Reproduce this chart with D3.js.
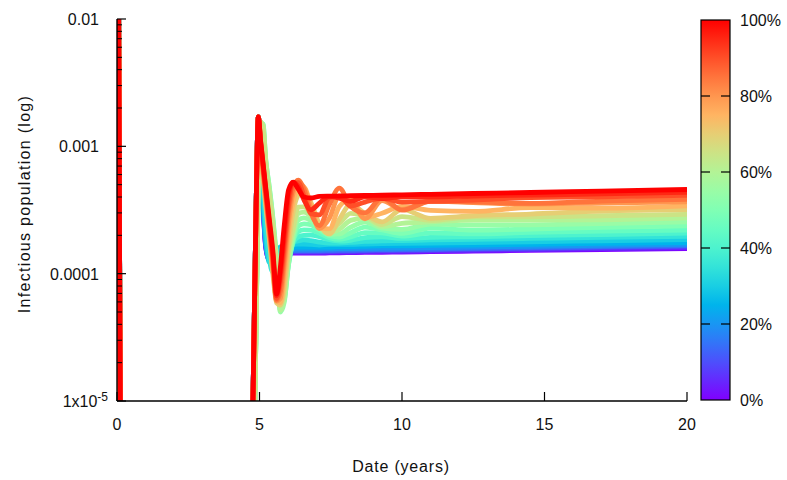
<!DOCTYPE html>
<html>
<head>
<meta charset="utf-8">
<script src="https://cdn.jsdelivr.net/npm/d3@7"></script>
<style>
  html, body { margin: 0; padding: 0; background: #fff; }
  svg { display: block; font-family: "Liberation Sans", Arial, Helvetica, sans-serif; }
</style>
</head>
<body>
<svg id="chart" width="787" height="480"></svg>
<script>
// ---------------- data ----------------
// initial outbreak segment shared by every run
const introYears = [0.05, 0.12, 4.6];
const introValues = [0.03, 3e-6, 1e-8];

// time grid (years) of the second outbreak and the endemic phase
const years = [4.70, 4.80, 4.88, 4.96, 5.04, 5.12, 5.22, 5.34, 5.47, 5.60, 5.73, 5.87, 6.02, 6.18, 6.36, 6.56, 6.80, 7.10, 7.45, 7.80, 8.20, 8.70, 9.30, 10, 11, 12.5, 14.5, 17, 20];

// colour-bar parameter of each run (%)
const shares = [0, 5, 10, 15, 20, 25, 30, 35, 40, 45, 50, 55, 60, 65, 70, 75, 80, 85, 90, 95, 100];

// infectious population per run (same length as years)
const pct0   = [1e-6, 2.5e-5, 3.2e-4, 1.7e-3, 7.53e-4, 3.46e-4, 1.59e-4, 1.28e-4, 1.31e-4, 1.37e-4, 1.41e-4, 1.43e-4, 1.44e-4, 1.45e-4, 1.45e-4, 1.45e-4, 1.45e-4, 1.45e-4, 1.456e-4, 1.459e-4, 1.463e-4, 1.468e-4, 1.473e-4, 1.48e-4, 1.489e-4, 1.503e-4, 1.522e-4, 1.546e-4, 1.575e-4];
const pct5   = [1e-6, 2.5e-5, 3.2e-4, 1.7e-3, 7.67e-4, 3.59e-4, 1.62e-4, 1.29e-4, 1.33e-4, 1.40e-4, 1.44e-4, 1.455e-4, 1.465e-4, 1.47e-4, 1.47e-4, 1.47e-4, 1.47e-4, 1.47e-4, 1.475e-4, 1.48e-4, 1.48e-4, 1.49e-4, 1.495e-4, 1.50e-4, 1.51e-4, 1.525e-4, 1.545e-4, 1.57e-4, 1.60e-4];
const pct10  = [1e-6, 2.5e-5, 3.2e-4, 1.7e-3, 7.81e-4, 3.72e-4, 1.65e-4, 1.30e-4, 1.35e-4, 1.43e-4, 1.465e-4, 1.48e-4, 1.495e-4, 1.50e-4, 1.50e-4, 1.50e-4, 1.50e-4, 1.50e-4, 1.505e-4, 1.51e-4, 1.51e-4, 1.52e-4, 1.525e-4, 1.53e-4, 1.54e-4, 1.56e-4, 1.58e-4, 1.61e-4, 1.64e-4];
const pct15  = [1e-6, 2.5e-5, 3.2e-4, 1.7e-3, 7.95e-4, 3.86e-4, 1.71e-4, 1.33e-4, 1.37e-4, 1.45e-4, 1.49e-4, 1.50e-4, 1.515e-4, 1.52e-4, 1.52e-4, 1.52e-4, 1.52e-4, 1.52e-4, 1.525e-4, 1.53e-4, 1.53e-4, 1.54e-4, 1.545e-4, 1.55e-4, 1.56e-4, 1.58e-4, 1.60e-4, 1.63e-4, 1.66e-4];
const pct20  = [1e-6, 2.5e-5, 3.2e-4, 1.7e-3, 8.10e-4, 4.00e-4, 1.74e-4, 1.35e-4, 1.40e-4, 1.48e-4, 1.53e-4, 1.545e-4, 1.55e-4, 1.56e-4, 1.56e-4, 1.56e-4, 1.56e-4, 1.56e-4, 1.565e-4, 1.57e-4, 1.57e-4, 1.58e-4, 1.585e-4, 1.59e-4, 1.60e-4, 1.62e-4, 1.64e-4, 1.67e-4, 1.70e-4];
const pct25  = [1e-6, 2.5e-5, 3.2e-4, 1.7e-3, 8.24e-4, 4.15e-4, 1.81e-4, 1.37e-4, 1.43e-4, 1.53e-4, 1.59e-4, 1.60e-4, 1.61e-4, 1.62e-4, 1.62e-4, 1.62e-4, 1.62e-4, 1.62e-4, 1.62e-4, 1.63e-4, 1.63e-4, 1.64e-4, 1.65e-4, 1.65e-4, 1.67e-4, 1.68e-4, 1.70e-4, 1.73e-4, 1.75e-4];
const pct30  = [1e-6, 2.5e-5, 3.2e-4, 1.7e-3, 8.86e-4, 4.54e-4, 1.97e-4, 1.23e-4, 1.33e-4, 1.53e-4, 1.62e-4, 1.65e-4, 1.68e-4, 1.70e-4, 1.71e-4, 1.71e-4, 1.70e-4, 1.68e-4, 1.70e-4, 1.70e-4, 1.70e-4, 1.71e-4, 1.72e-4, 1.73e-4, 1.74e-4, 1.75e-4, 1.78e-4, 1.81e-4, 1.85e-4];
const pct35  = [1e-6, 2.5e-5, 3.2e-4, 1.7e-3, 9.36e-4, 5.24e-4, 2.55e-4, 1.33e-4, 1.03e-4, 1.28e-4, 1.53e-4, 1.68e-4, 1.74e-4, 1.77e-4, 1.81e-4, 1.84e-4, 1.82e-4, 1.77e-4, 1.74e-4, 1.74e-4, 1.76e-4, 1.79e-4, 1.81e-4, 1.82e-4, 1.84e-4, 1.86e-4, 1.89e-4, 1.93e-4, 1.96e-4];
const pct40  = [1e-7, 3e-6, 4e-5, 6e-4, 1.55e-3, 1.25e-3, 5.96e-4, 3.59e-4, 2.01e-4, 1.11e-4, 7.17e-5, 8.6e-5, 1.28e-4, 1.74e-4, 1.95e-4, 2.00e-4, 2.01e-4, 1.95e-4, 1.85e-4, 1.80e-4, 1.83e-4, 1.92e-4, 1.95e-4, 1.89e-4, 1.93e-4, 1.95e-4, 1.99e-4, 2.03e-4, 2.08e-4];
const pct45  = [1e-7, 3e-6, 4e-5, 6e-4, 1.55e-3, 1.35e-3, 6.76e-4, 4.15e-4, 2.37e-4, 1.23e-4, 6.21e-5, 7.17e-5, 1.19e-4, 1.81e-4, 2.14e-4, 2.21e-4, 2.20e-4, 2.08e-4, 1.92e-4, 1.86e-4, 1.94e-4, 2.10e-4, 2.09e-4, 1.97e-4, 2.09e-4, 2.05e-4, 2.11e-4, 2.16e-4, 2.20e-4];
const pct50  = [1e-7, 3e-6, 4e-5, 6e-4, 1.45e-3, 1.50e-3, 7.81e-4, 4.88e-4, 2.74e-4, 1.33e-4, 5.37e-5, 6.21e-5, 1.19e-4, 1.84e-4, 2.37e-4, 2.46e-4, 2.42e-4, 2.21e-4, 1.99e-4, 1.94e-4, 2.10e-4, 2.32e-4, 2.21e-4, 2.07e-4, 2.28e-4, 2.20e-4, 2.24e-4, 2.31e-4, 2.37e-4];
const pct55  = [1e-7, 3e-6, 4e-5, 6e-4, 1.45e-3, 1.50e-3, 7.81e-4, 4.79e-4, 2.64e-4, 1.23e-4, 5.0e-5, 5.99e-5, 1.23e-4, 1.97e-4, 2.64e-4, 2.74e-4, 2.62e-4, 2.31e-4, 2.04e-4, 2.05e-4, 2.32e-4, 2.54e-4, 2.28e-4, 2.23e-4, 2.45e-4, 2.41e-4, 2.42e-4, 2.47e-4, 2.55e-4];
const pct60  = [1e-7, 3e-6, 4e-5, 6e-4, 1.55e-3, 1.45e-3, 7.53e-4, 4.54e-4, 2.55e-4, 1.21e-4, 5.18e-5, 6.44e-5, 1.37e-4, 2.12e-4, 2.97e-4, 3.04e-4, 2.82e-4, 2.38e-4, 2.11e-4, 2.23e-4, 2.62e-4, 2.73e-4, 2.35e-4, 2.48e-4, 2.55e-4, 2.64e-4, 2.64e-4, 2.65e-4, 2.74e-4];
const pct65  = [1e-7, 3e-6, 4e-5, 6e-4, 1.55e-3, 1.40e-3, 7.13e-4, 4.22e-4, 2.37e-4, 1.15e-4, 5.67e-5, 7.17e-5, 1.53e-4, 2.28e-4, 3.33e-4, 3.35e-4, 2.98e-4, 2.42e-4, 2.20e-4, 2.48e-4, 2.98e-4, 2.85e-4, 2.43e-4, 2.81e-4, 2.62e-4, 2.80e-4, 2.80e-4, 2.85e-4, 2.92e-4];
const pct70  = [1e-6, 2.5e-5, 3.2e-4, 1.7e-3, 9.36e-4, 5.85e-4, 3.40e-4, 1.91e-4, 9.9e-5, 5.9e-5, 5.67e-5, 8.0e-5, 1.68e-4, 3.05e-4, 4.14e-4, 4.39e-4, 3.64e-4, 2.45e-4, 2.05e-4, 2.67e-4, 3.50e-4, 2.96e-4, 2.55e-4, 3.20e-4, 2.72e-4, 2.85e-4, 2.94e-4, 3.10e-4, 3.18e-4];
const pct75  = [1e-6, 2.5e-5, 3.2e-4, 1.7e-3, 9.7e-4, 6.17e-4, 3.65e-4, 2.05e-4, 1.07e-4, 6.2e-5, 5.9e-5, 9.6e-5, 2.12e-4, 3.65e-4, 4.71e-4, 4.73e-4, 3.51e-4, 2.29e-4, 2.25e-4, 3.37e-4, 3.85e-4, 2.75e-4, 2.98e-4, 3.38e-4, 3.14e-4, 3.08e-4, 3.30e-4, 3.27e-4, 3.41e-4];
const pct80  = [1e-6, 2.5e-5, 3.2e-4, 1.7e-3, 1.01e-3, 6.52e-4, 3.93e-4, 2.20e-4, 1.15e-4, 6.1e-5, 6.4e-5, 1.17e-4, 2.55e-4, 4.30e-4, 5.15e-4, 4.79e-4, 3.29e-4, 2.26e-4, 2.72e-4, 4.10e-4, 3.80e-4, 2.70e-4, 3.75e-4, 3.20e-4, 3.72e-4, 3.62e-4, 3.52e-4, 3.59e-4, 3.66e-4];
const pct85  = [1e-6, 2.5e-5, 3.2e-4, 1.7e-3, 1.04e-3, 6.88e-4, 4.15e-4, 2.32e-4, 1.23e-4, 6.2e-5, 7.2e-5, 1.40e-4, 3.05e-4, 4.71e-4, 5.42e-4, 4.56e-4, 3.02e-4, 2.38e-4, 3.48e-4, 4.70e-4, 3.37e-4, 3.00e-4, 3.95e-4, 3.15e-4, 3.70e-4, 3.66e-4, 3.56e-4, 3.71e-4, 3.83e-4];
const pct90  = [1e-6, 2.5e-5, 3.2e-4, 1.7e-3, 1.06e-3, 7.13e-4, 4.38e-4, 2.45e-4, 1.33e-4, 6.4e-5, 8.5e-5, 1.68e-4, 3.46e-4, 5.06e-4, 5.19e-4, 4.08e-4, 2.96e-4, 2.90e-4, 3.95e-4, 4.05e-4, 3.40e-4, 3.65e-4, 3.90e-4, 3.65e-4, 3.70e-4, 3.78e-4, 3.96e-4, 4.01e-4, 4.13e-4];
const pct95  = [1e-6, 2.5e-5, 3.2e-4, 1.7e-3, 1.08e-3, 7.40e-4, 4.54e-4, 2.55e-4, 1.40e-4, 6.7e-5, 9.8e-5, 2.01e-4, 4.08e-4, 5.21e-4, 4.84e-4, 3.80e-4, 3.17e-4, 3.58e-4, 4.05e-4, 3.92e-4, 3.70e-4, 4.02e-4, 3.88e-4, 4.02e-4, 4.01e-4, 4.07e-4, 4.14e-4, 4.23e-4, 4.35e-4];
const pct100 = [1e-6, 2.5e-5, 3.2e-4, 1.7e-3, 1.10e-3, 7.53e-4, 4.71e-4, 2.74e-4, 1.50e-4, 6.9e-5, 1.11e-4, 2.41e-4, 4.54e-4, 5.24e-4, 4.62e-4, 4.00e-4, 3.93e-4, 4.04e-4, 4.06e-4, 4.07e-4, 4.09e-4, 4.11e-4, 4.13e-4, 4.16e-4, 4.20e-4, 4.26e-4, 4.34e-4, 4.45e-4, 4.58e-4];

const seriesValues = [pct0, pct5, pct10, pct15, pct20, pct25, pct30, pct35, pct40, pct45, pct50,
                      pct55, pct60, pct65, pct70, pct75, pct80, pct85, pct90, pct95, pct100];

// axes ticks and labels
const xTicks = [0, 5, 10, 15, 20];
const yTicks = [1e-5, 1e-4, 1e-3, 1e-2];
const yTickLabels = ["1x10", "0.0001", "0.001", "0.01"];
const colorTicks = [0, 20, 40, 60, 80, 100];
const xTitle = "Date (years)";
const yTitle = "Infectious population (log)";

// ---------------- drawing ----------------
const svg = d3.select("#chart");
const plotL = 117, plotR = 687, plotT = 19, plotB = 401;

const x = d3.scaleLinear().domain([0, 20]).range([plotL, plotR]);
const y = d3.scaleLog().domain([1e-5, 1e-2]).range([plotB, plotT]);

function rainbow(f) {
  const r = Math.min(1, Math.abs(2 * f - 0.5));
  const g = Math.max(0, Math.sin(Math.PI * f));
  const b = Math.max(0, Math.cos(Math.PI * f / 2));
  return d3.rgb(r * 255, g * 255, b * 255).formatHex();
}
const color = d3.scaleSequential(rainbow).domain([0, 100]);

const defs = svg.append("defs");
defs.append("clipPath").attr("id", "plotclip")
  .append("rect").attr("x", plotL).attr("y", plotT).attr("width", plotR - plotL).attr("height", plotB - plotT);

const grad = defs.append("linearGradient").attr("id", "cbgrad")
  .attr("x1", 0).attr("y1", 1).attr("x2", 0).attr("y2", 0);
d3.range(0, 101, 5).forEach(v => {
  grad.append("stop").attr("offset", v / 100).attr("stop-color", color(v));
});

// curves
const line = d3.line()
  .x(d => x(d[0]))
  .y(d => y(d[1]))
  .curve(d3.curveMonotoneX);

const runs = shares.map((p, i) => ({
  p,
  pts: introYears.map((t, j) => [t, introValues[j]])
        .concat(years.map((t, j) => [t, seriesValues[i][j]]))
}));

svg.append("g").attr("clip-path", "url(#plotclip)")
  .selectAll("path").data(runs).join("path")
  .attr("d", d => line(d.pts))
  .attr("fill", "none")
  .attr("stroke", d => color(d.p))
  .attr("stroke-width", 4.8)
  .attr("stroke-linejoin", "round");

// axes
const axisColor = "#000";
const ax = svg.append("g").attr("stroke", axisColor).attr("fill", "none");
ax.append("line").attr("x1", plotL).attr("x2", plotL).attr("y1", plotT).attr("y2", plotB).attr("stroke-width", 1.4);
ax.append("line").attr("x1", plotL).attr("x2", plotR).attr("y1", plotB).attr("y2", plotB).attr("stroke-width", 1.4);

yTicks.forEach(v => {
  ax.append("line").attr("x1", plotL).attr("x2", plotL + 9).attr("y1", y(v)).attr("y2", y(v)).attr("stroke-width", 1.2);
});
[1e-5, 1e-4, 1e-3].forEach(dec => {
  for (let m = 2; m <= 9; m++) {
    const yy = y(dec * m);
    ax.append("line").attr("x1", plotL).attr("x2", plotL + 5).attr("y1", yy).attr("y2", yy).attr("stroke-width", 1);
  }
});
xTicks.forEach(v => {
  ax.append("line").attr("x1", x(v)).attr("x2", x(v)).attr("y1", plotB).attr("y2", plotB - 9).attr("stroke-width", 1.2);
});

// tick labels
const txt = svg.append("g").attr("fill", "#111").attr("font-size", 16);
xTicks.forEach(v => {
  txt.append("text").attr("x", x(v)).attr("y", plotB + 29).attr("text-anchor", "middle").text(v);
});
yTicks.forEach((v, i) => {
  const t = txt.append("text").attr("y", y(v) + 6).attr("text-anchor", "end");
  if (i === 0) {
    t.attr("x", 108);
    t.append("tspan").text(yTickLabels[i]);
    t.append("tspan").attr("font-size", 12).attr("dy", -6).text("-5");
  } else {
    t.attr("x", 99).text(yTickLabels[i]);
  }
});

// titles
svg.append("text").attr("x", 401).attr("y", 472).attr("text-anchor", "middle")
  .attr("font-size", 16).attr("letter-spacing", 0.8).attr("fill", "#111").text(xTitle);
svg.append("text").attr("transform", "translate(30,204) rotate(-90)").attr("text-anchor", "middle")
  .attr("font-size", 16).attr("letter-spacing", 1.3).attr("fill", "#111").text(yTitle);

// colour bar
const cbX = 701, cbW = 29;
const cy = d3.scaleLinear().domain([0, 100]).range([400, 20]);
svg.append("rect").attr("x", cbX).attr("y", cy(100)).attr("width", cbW).attr("height", cy(0) - cy(100))
  .attr("fill", "url(#cbgrad)").attr("stroke", axisColor).attr("stroke-width", 1.2);
colorTicks.forEach(v => {
  if (v > 0 && v < 100) {
    svg.append("line").attr("x1", cbX).attr("x2", cbX + 9).attr("y1", cy(v)).attr("y2", cy(v)).attr("stroke", axisColor).attr("stroke-width", 1.2);
    svg.append("line").attr("x1", cbX + cbW - 9).attr("x2", cbX + cbW).attr("y1", cy(v)).attr("y2", cy(v)).attr("stroke", axisColor).attr("stroke-width", 1.2);
  }
  svg.append("text").attr("x", 740).attr("y", cy(v) + 6).attr("font-size", 16).attr("fill", "#111").text(v + "%");
});
</script>
</body>
</html>
